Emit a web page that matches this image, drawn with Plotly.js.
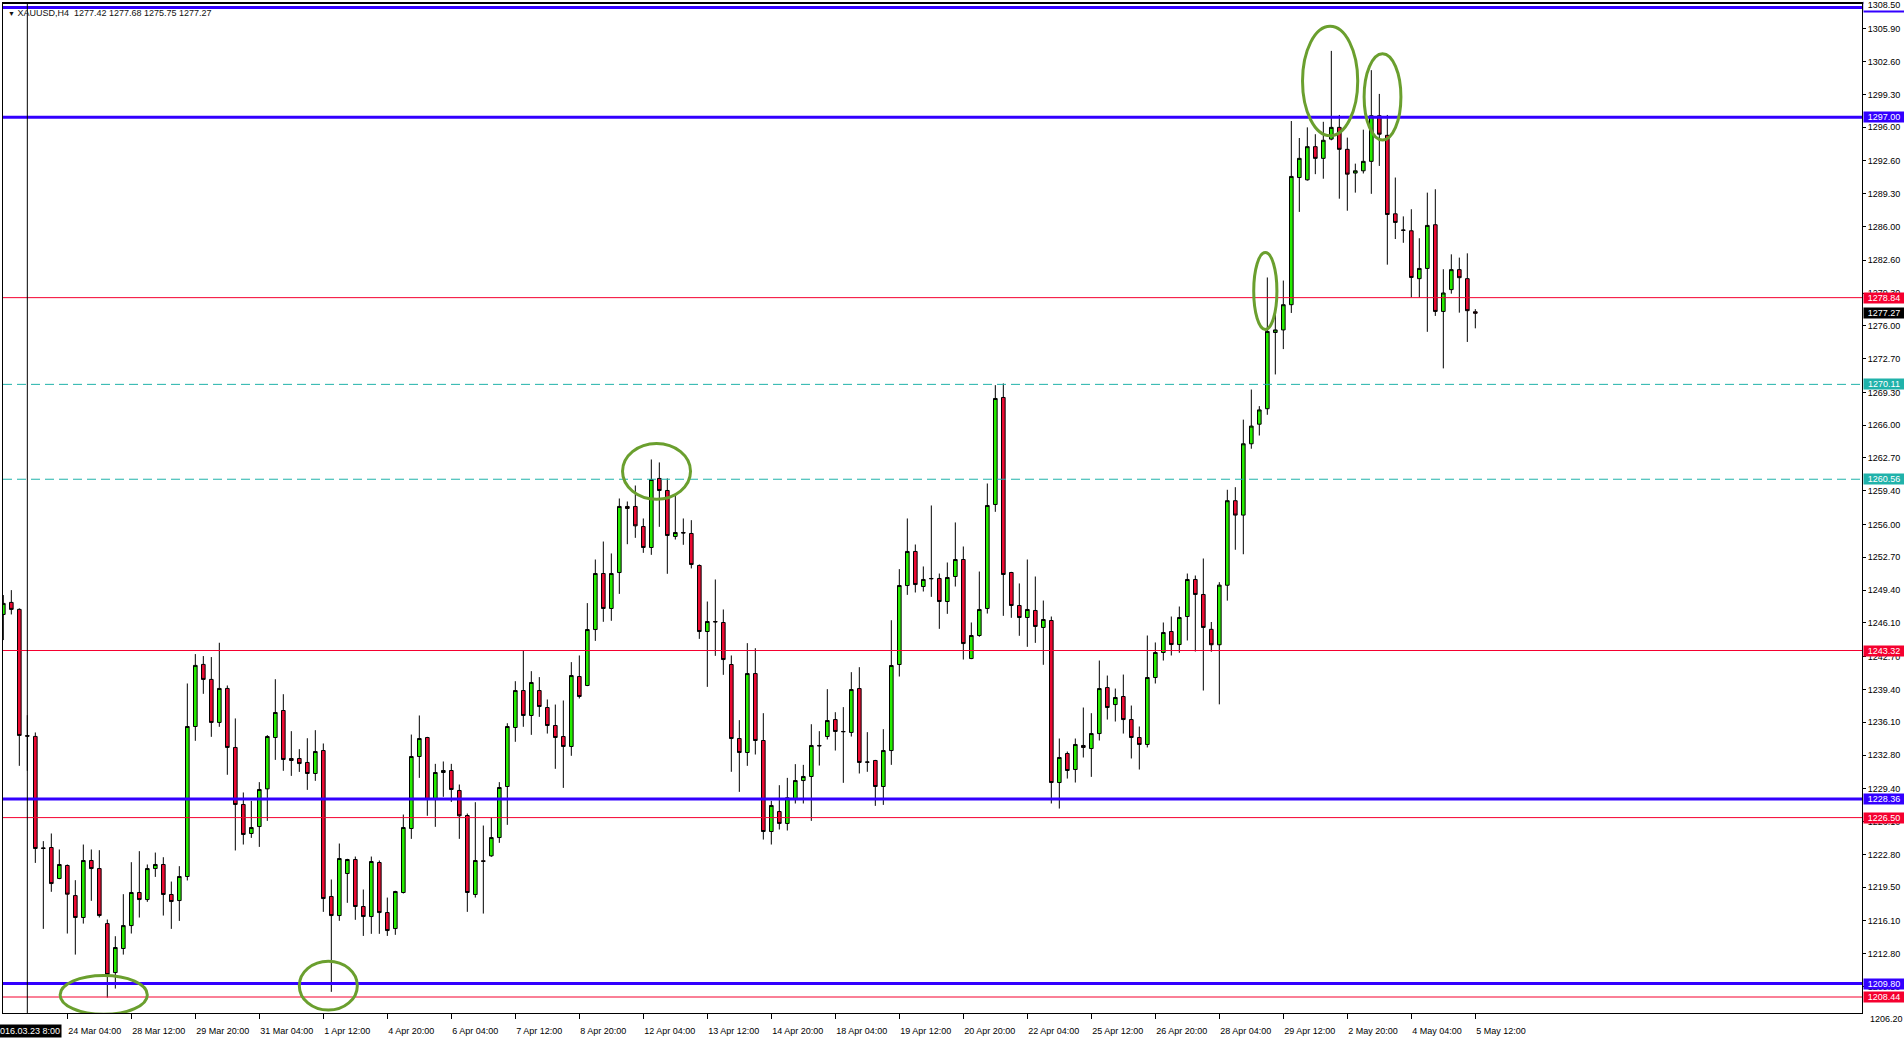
<!DOCTYPE html>
<html>
<head>
<meta charset="utf-8">
<script src="https://cdn.plot.ly/plotly-3.0.1.min.js"></script>
<style>
  html, body { margin: 0; padding: 0; background: #fff; }
  #chart { width: 1904px; height: 1043px; }
</style>
</head>
<body>
<div id="chart"></div>
<script>
// XAUUSD H4, 22 Mar 2016 20:00 -> 5 May 2016 12:00, one entry per bar
const opens = [
  1246.95, 1248.16, 1247.46, 1234.75, 1234.67, 1223.45, 1223.49, 1220.37, 1221.68, 1218.65,
  1216.44, 1222.18, 1221.37, 1215.83, 1210.90, 1213.32, 1215.63, 1218.96, 1218.25, 1221.37,
  1221.78, 1218.76, 1218.15, 1220.57, 1235.67, 1241.92, 1240.41, 1236.08, 1239.50, 1233.56,
  1227.82, 1224.90, 1225.60, 1229.39, 1234.56, 1237.28, 1232.45, 1232.45, 1232.05, 1230.94,
  1233.25, 1218.56, 1216.64, 1220.87, 1222.28, 1217.55, 1216.54, 1221.98, 1216.94, 1215.33,
  1218.96, 1225.40, 1232.65, 1234.56, 1228.32, 1231.04, 1231.24, 1229.23, 1226.71, 1218.76,
  1222.15, 1222.65, 1224.49, 1229.63, 1235.57, 1239.29, 1236.78, 1239.29, 1237.58, 1235.77,
  1234.66, 1233.66, 1240.70, 1239.80, 1245.43, 1251.07, 1247.55, 1251.17, 1257.82, 1257.82,
  1255.80, 1253.69, 1260.64, 1259.43, 1254.80, 1255.20, 1255.10, 1251.88, 1245.23, 1246.24,
  1246.14, 1241.91, 1234.46, 1233.05, 1241.00, 1234.26, 1225.10, 1227.11, 1225.91, 1228.39,
  1230.23, 1230.64, 1233.76, 1234.66, 1236.37, 1235.17, 1235.07, 1239.49, 1232.10, 1232.25,
  1229.63, 1233.25, 1241.91, 1249.86, 1253.29, 1249.76, 1250.57, 1250.57, 1248.25, 1250.77,
  1252.48, 1242.51, 1244.83, 1247.55, 1258.02, 1268.79, 1251.17, 1247.85, 1246.64, 1247.35,
  1245.64, 1246.34, 1230.03, 1232.95, 1231.34, 1233.76, 1233.45, 1234.96, 1239.59, 1237.88,
  1238.69, 1236.37, 1234.56, 1233.86, 1240.60, 1243.12, 1245.23, 1243.92, 1246.74, 1250.47,
  1248.96, 1245.45, 1243.90, 1249.89, 1258.40, 1256.95, 1264.13, 1266.10, 1267.66, 1275.33,
  1275.59, 1278.13, 1290.93, 1290.70, 1294.04, 1292.86, 1294.80, 1295.98, 1293.77, 1291.38,
  1291.61, 1292.56, 1297.15, 1295.18, 1287.28, 1285.65, 1285.57, 1280.75, 1281.78, 1286.18,
  1277.45, 1279.65, 1281.66, 1280.75, 1277.42
];
const highs = [
  1248.90, 1249.40, 1247.56, 1236.81, 1235.07, 1224.13, 1224.90, 1223.29, 1221.78, 1220.20,
  1223.79, 1223.29, 1223.22, 1216.24, 1214.56, 1218.79, 1222.01, 1223.12, 1221.78, 1222.98,
  1222.51, 1220.06, 1221.61, 1240.00, 1242.96, 1242.76, 1242.66, 1244.10, 1239.80, 1236.48,
  1229.03, 1228.19, 1230.07, 1234.80, 1240.43, 1238.92, 1235.20, 1233.39, 1234.49, 1235.30,
  1233.96, 1220.27, 1223.89, 1222.35, 1222.58, 1219.26, 1222.58, 1222.18, 1218.45, 1219.13,
  1226.81, 1234.86, 1236.78, 1234.63, 1231.91, 1232.15, 1231.91, 1229.83, 1226.91, 1228.05,
  1225.70, 1226.51, 1230.07, 1236.00, 1240.23, 1243.32, 1241.24, 1240.64, 1238.39, 1237.88,
  1238.29, 1242.15, 1242.82, 1248.09, 1252.48, 1254.29, 1253.09, 1258.62, 1258.32, 1259.93,
  1256.61, 1262.55, 1262.25, 1260.64, 1259.02, 1256.61, 1256.44, 1251.98, 1248.25, 1250.47,
  1247.45, 1242.82, 1236.31, 1244.06, 1243.55, 1237.01, 1228.19, 1229.76, 1230.50, 1231.88,
  1231.81, 1235.90, 1235.20, 1239.43, 1237.11, 1237.62, 1241.14, 1241.64, 1235.10, 1232.31,
  1235.40, 1246.37, 1251.51, 1256.61, 1253.99, 1251.78, 1257.92, 1251.07, 1252.18, 1256.21,
  1253.79, 1246.14, 1251.27, 1260.13, 1270.03, 1270.20, 1251.24, 1250.07, 1252.48, 1250.77,
  1248.35, 1246.74, 1234.46, 1233.15, 1234.46, 1237.58, 1237.01, 1242.31, 1240.80, 1239.49,
  1240.90, 1237.78, 1235.67, 1244.83, 1244.13, 1246.14, 1246.74, 1247.75, 1251.07, 1250.87,
  1252.58, 1246.19, 1250.20, 1259.50, 1259.76, 1266.56, 1269.59, 1267.92, 1280.87, 1277.30,
  1280.56, 1296.62, 1294.91, 1295.98, 1295.29, 1296.54, 1303.68, 1297.23, 1294.95, 1292.33,
  1295.75, 1301.74, 1299.35, 1297.23, 1290.93, 1287.02, 1287.74, 1284.82, 1289.41, 1289.75,
  1281.70, 1283.20, 1282.87, 1283.30, 1277.68
];
const lows = [
  1244.37, 1246.95, 1231.71, 1231.21, 1221.94, 1215.30, 1219.03, 1220.30, 1214.83, 1212.71,
  1215.83, 1218.12, 1216.44, 1208.38, 1209.29, 1212.71, 1214.83, 1216.44, 1218.02, 1220.53,
  1216.64, 1215.30, 1216.10, 1220.17, 1234.23, 1238.96, 1234.63, 1235.64, 1230.81, 1223.19,
  1223.79, 1224.46, 1223.55, 1226.17, 1232.31, 1231.21, 1230.70, 1231.10, 1229.29, 1230.20,
  1217.01, 1208.96, 1216.11, 1217.92, 1216.21, 1214.59, 1214.80, 1214.80, 1214.59, 1214.70,
  1218.86, 1224.36, 1230.50, 1226.68, 1225.57, 1228.59, 1228.08, 1224.36, 1217.01, 1218.45,
  1216.84, 1222.55, 1223.96, 1225.77, 1234.13, 1235.64, 1234.83, 1236.64, 1234.96, 1231.41,
  1229.49, 1232.72, 1238.49, 1239.73, 1244.29, 1246.21, 1246.31, 1249.02, 1254.02, 1254.66,
  1253.15, 1252.95, 1255.77, 1251.04, 1254.49, 1253.96, 1251.58, 1244.49, 1239.66, 1242.78,
  1240.87, 1231.11, 1229.09, 1231.71, 1232.85, 1224.29, 1223.79, 1225.30, 1225.20, 1227.92,
  1227.92, 1226.17, 1231.74, 1234.36, 1233.25, 1230.00, 1234.66, 1230.94, 1231.11, 1227.68,
  1227.78, 1231.81, 1240.70, 1248.92, 1249.16, 1249.26, 1248.72, 1245.50, 1247.01, 1249.76,
  1242.41, 1242.45, 1244.70, 1247.04, 1257.28, 1246.81, 1246.61, 1244.80, 1243.69, 1244.09,
  1241.88, 1227.92, 1227.41, 1230.43, 1230.03, 1232.55, 1230.60, 1234.26, 1236.37, 1236.17,
  1234.96, 1232.45, 1231.34, 1233.56, 1240.00, 1242.31, 1242.82, 1243.09, 1244.33, 1243.22,
  1239.29, 1243.20, 1237.90, 1248.34, 1253.46, 1253.01, 1263.63, 1264.96, 1267.05, 1271.11,
  1273.66, 1277.30, 1287.47, 1290.62, 1291.27, 1290.81, 1294.68, 1288.80, 1287.59, 1289.41,
  1291.34, 1289.29, 1292.10, 1282.16, 1284.74, 1284.36, 1278.86, 1278.86, 1275.40, 1277.00,
  1271.72, 1279.24, 1277.33, 1274.38, 1275.75
];
const closes = [
  1248.06, 1247.46, 1234.77, 1234.70, 1223.39, 1223.40, 1219.86, 1221.78, 1218.79, 1216.44,
  1222.18, 1221.37, 1216.64, 1210.70, 1213.42, 1215.63, 1218.96, 1218.25, 1221.37, 1221.78,
  1218.76, 1218.05, 1220.57, 1235.67, 1241.82, 1240.41, 1236.08, 1239.50, 1233.56, 1227.82,
  1224.80, 1225.50, 1229.33, 1234.66, 1237.08, 1232.35, 1232.25, 1231.94, 1230.94, 1233.15,
  1218.35, 1216.64, 1222.38, 1222.28, 1217.55, 1216.54, 1222.08, 1216.94, 1215.13, 1219.06,
  1225.50, 1232.65, 1234.46, 1228.32, 1231.04, 1231.24, 1229.33, 1226.68, 1218.96, 1222.18,
  1222.10, 1224.49, 1229.53, 1235.67, 1239.29, 1236.78, 1240.10, 1237.68, 1235.77, 1234.56,
  1233.66, 1240.80, 1238.69, 1245.43, 1251.07, 1247.55, 1251.07, 1257.82, 1257.62, 1255.87,
  1253.69, 1260.53, 1259.43, 1254.90, 1255.20, 1255.15, 1251.98, 1245.23, 1246.24, 1246.20,
  1242.41, 1234.46, 1233.05, 1241.00, 1234.26, 1225.10, 1227.72, 1225.91, 1228.49, 1230.23,
  1230.64, 1233.76, 1233.72, 1236.27, 1235.17, 1235.15, 1239.39, 1232.05, 1232.08, 1229.63,
  1233.25, 1241.81, 1249.86, 1253.29, 1249.96, 1250.47, 1250.55, 1248.25, 1250.67, 1252.48,
  1244.02, 1244.83, 1247.45, 1257.92, 1268.69, 1250.97, 1247.85, 1246.64, 1247.45, 1245.74,
  1246.44, 1230.03, 1232.55, 1231.24, 1233.86, 1233.56, 1234.96, 1239.49, 1237.58, 1238.59,
  1236.37, 1234.56, 1233.86, 1240.60, 1243.12, 1245.13, 1243.92, 1246.64, 1250.47, 1248.96,
  1245.64, 1243.90, 1249.90, 1258.40, 1256.95, 1264.13, 1265.91, 1267.54, 1275.44, 1275.59,
  1278.13, 1291.04, 1292.86, 1294.04, 1292.86, 1294.68, 1295.98, 1293.77, 1291.27, 1291.61,
  1292.56, 1297.15, 1295.29, 1287.21, 1286.41, 1285.62, 1280.87, 1281.78, 1286.11, 1277.45,
  1279.31, 1281.66, 1280.85, 1277.53, 1277.27
];

// time axis labels, one every 8 bars starting at bar 8
const timeLabels = [
  '24 Mar 04:00', '28 Mar 12:00', '29 Mar 20:00', '31 Mar 04:00', '1 Apr 12:00', '4 Apr 20:00',
  '6 Apr 04:00', '7 Apr 12:00', '8 Apr 20:00', '12 Apr 04:00', '13 Apr 12:00', '14 Apr 20:00',
  '18 Apr 04:00', '19 Apr 12:00', '20 Apr 20:00', '22 Apr 04:00', '25 Apr 12:00', '26 Apr 20:00',
  '28 Apr 04:00', '29 Apr 12:00', '2 May 20:00', '4 May 04:00', '5 May 12:00'
];
const labelEvery = 8;
const labelStart = 8;

const priceTicks = [
  1305.9, 1302.6, 1299.3, 1296.0, 1292.6, 1289.3, 1286.0, 1282.6, 1279.3, 1276.0,
  1272.7, 1269.3, 1266.0, 1262.7, 1259.4, 1256.0, 1252.7, 1249.4, 1246.1, 1242.7,
  1239.4, 1236.1, 1232.8, 1229.4, 1226.1, 1222.8, 1219.5, 1216.1, 1212.8, 1209.5
];
const scaleTop = 1308.50;
const scaleBottom = 1206.83;
const lowestTick = 1206.20;

const blueLevels = [1308.05, 1297.00, 1228.36, 1209.80];
const redLevels = [1278.84, 1243.32, 1226.50, 1208.44];
const tealLevels = [1270.11, 1260.56];
const lastPrice = 1277.27;

const vlineBar = 3;
const vlineText = '2016.03.23 8:00';
const header = 'XAUUSD,H4  1277.42 1277.68 1275.75 1277.27';

// circled areas: [bar from, bar to, price from, price to]
const circledZones = [
  [7.1, 18.0, 1206.7, 1210.6],
  [37.0, 44.25, 1207.12, 1212.05],
  [77.4, 85.9, 1258.55, 1264.16],
  [156.3, 159.2, 1275.63, 1283.39],
  [162.4, 169.3, 1295.14, 1306.15],
  [170.1, 174.7, 1294.7, 1303.4]
];

const W = 1904, H = 1043;
const M = { l: 3, r: 42, t: 3, b: 30 };
const barPx = 8;
const plotW = W - M.l - M.r;

const BLUE = '#3300ff';
const RED = '#f5002f';
const TEAL = '#20b2aa';
const UP = '#26ec00';
const DOWN = '#eb0a32';
const RING = '#6a9f2e';
const FONT = 'Liberation Sans, Arial, sans-serif';

const bars = opens.map((_, i) => i);
const tickPos = timeLabels.map((_, i) => labelStart + i * labelEvery);

const shapes = [];
const annotations = [];

function hline(price, color, width, dash) {
  shapes.push({
    type: 'line', xref: 'paper', x0: 0, x1: 1, yref: 'y', y0: price, y1: price,
    line: { color: color, width: width, dash: dash || 'solid' }
  });
}

function axisTag(price, bg, fg) {
  annotations.push({
    xref: 'paper', x: 1, xanchor: 'left', xshift: 1,
    yref: 'y', y: price, yanchor: 'middle',
    text: price.toFixed(2), showarrow: false,
    width: 40, height: 10, borderpad: 0,
    bgcolor: bg, font: { family: FONT, size: 9, color: fg }
  });
}

tealLevels.forEach(p => hline(p, TEAL, 1, '9px,5px'));
redLevels.forEach(p => hline(p, RED, 1));
blueLevels.forEach(p => hline(p, BLUE, 3));

// vertical line
shapes.push({
  type: 'line', xref: 'x', x0: vlineBar, x1: vlineBar, yref: 'paper', y0: 0, y1: 1,
  line: { color: 'black', width: 1 }
});

// top border runs over the price scale too
shapes.push({
  type: 'line', xref: 'paper', x0: 0, x1: 1 + M.r / plotW, yref: 'paper', y0: 1, y1: 1,
  line: { color: 'black', width: 2 }
});

circledZones.forEach(z => {
  shapes.push({
    type: 'circle', xref: 'x', yref: 'y',
    x0: z[0], x1: z[1], y0: z[2], y1: z[3],
    line: { color: RING, width: 3 }
  });
});

tealLevels.forEach(p => axisTag(p, TEAL, 'white'));
redLevels.forEach(p => axisTag(p, RED, 'white'));
blueLevels.forEach(p => axisTag(p, BLUE, 'white'));
axisTag(lastPrice, 'black', 'white');

// top of scale
annotations.push({
  xref: 'paper', x: 1, xanchor: 'left', xshift: 1,
  yref: 'paper', y: 1, yanchor: 'middle', yshift: -2,
  text: scaleTop.toFixed(2), showarrow: false, width: 40, height: 10, borderpad: 0,
  bgcolor: 'white', font: { family: FONT, size: 9, color: 'black' }
});
// bottom of scale, just under the frame
annotations.push({
  xref: 'paper', x: 1, xanchor: 'left', xshift: 6,
  yref: 'paper', y: (lowestTick - scaleBottom) / (scaleTop - scaleBottom), yanchor: 'middle',
  text: lowestTick.toFixed(2), showarrow: false,
  font: { family: FONT, size: 9, color: 'black' }
});

// vertical line time tag
annotations.push({
  xref: 'x', x: vlineBar, xanchor: 'center',
  yref: 'paper', y: 0, yanchor: 'top', yshift: -11,
  text: vlineText, showarrow: false, borderpad: 1,
  bgcolor: 'black', font: { family: FONT, size: 9, color: 'white' }
});

// header
annotations.push({
  xref: 'paper', x: 0, xanchor: 'left', xshift: 3,
  yref: 'paper', y: 1, yanchor: 'top', yshift: -3,
  text: '<span style="font-size:7px">▼</span> ' + header, showarrow: false,
  font: { family: FONT, size: 9, color: '#111' }
});

const trace = {
  type: 'candlestick',
  x: bars, open: opens, high: highs, low: lows, close: closes,
  increasing: { fillcolor: UP, line: { color: 'black', width: 1 } },
  decreasing: { fillcolor: DOWN, line: { color: 'black', width: 1 } },
  whiskerwidth: 0,
  hoverinfo: 'skip',
  showlegend: false
};

const layout = {
  width: W, height: H,
  margin: M,
  paper_bgcolor: 'white', plot_bgcolor: 'white',
  showlegend: false,
  boxgap: 0.35,
  font: { family: FONT, size: 9, color: 'black' },
  xaxis: {
    type: 'linear',
    range: [-0.04, -0.04 + plotW / barPx],
    rangeslider: { visible: false },
    showgrid: false, zeroline: false,
    showline: true, linecolor: 'black', linewidth: 1, mirror: true,
    ticks: 'outside', ticklen: 5, tickcolor: 'black', tickwidth: 1,
    tickvals: tickPos, ticktext: timeLabels,
    ticklabelposition: 'outside right',
    ticklabelstandoff: 9,
    tickfont: { family: FONT, size: 9, color: 'black' }
  },
  yaxis: {
    side: 'right',
    range: [scaleBottom, scaleTop],
    showgrid: false, zeroline: false,
    showline: true, linecolor: 'black', linewidth: 1, mirror: true,
    ticks: 'outside', ticklen: 3, tickcolor: 'black', tickwidth: 1,
    tickvals: priceTicks, tickformat: '.2f',
    tickfont: { family: FONT, size: 9, color: 'black' }
  },
  shapes: shapes,
  annotations: annotations
};

Plotly.newPlot('chart', [trace], layout, { displayModeBar: false, staticPlot: true });
</script>
</body>
</html>
